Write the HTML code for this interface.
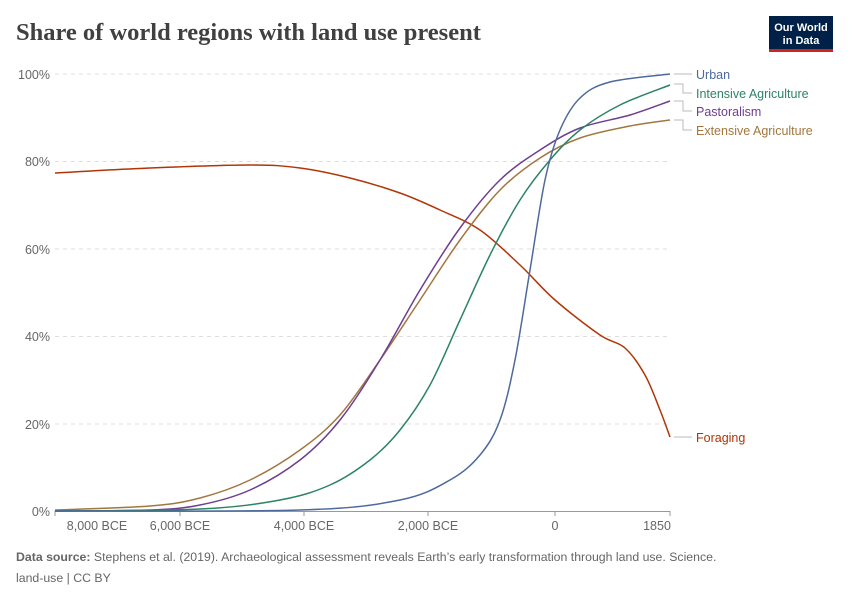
<!DOCTYPE html>
<html><head><meta charset="utf-8"><style>
body{margin:0;background:#fff;width:850px;height:600px;overflow:hidden;font-family:"Liberation Sans",sans-serif}
</style></head><body>
<svg id="s" width="850" height="600" xmlns="http://www.w3.org/2000/svg" font-family="Liberation Sans, sans-serif">
<text x="16" y="40" font-family="Liberation Serif, serif" font-size="24.5" font-weight="bold" fill="#404040">Share of world regions with land use present</text>
<rect x="769" y="16" width="64" height="36" fill="#002147"/>
<rect x="769" y="49" width="64" height="3" fill="#ce261e"/>
<text x="801" y="31" font-size="11" fill="#fff" text-anchor="middle" font-weight="bold">Our World</text>
<text x="801" y="44" font-size="11" fill="#fff" text-anchor="middle" font-weight="bold">in Data</text>
<g stroke="#ddd" stroke-dasharray="4,4" stroke-width="1">
<line x1="55" x2="670" y1="74" y2="74"/><line x1="55" x2="670" y1="161.5" y2="161.5"/><line x1="55" x2="670" y1="249" y2="249"/><line x1="55" x2="670" y1="336.5" y2="336.5"/><line x1="55" x2="670" y1="424" y2="424"/>
</g>
<line x1="55" x2="670" y1="511.5" y2="511.5" stroke="#999"/>
<g stroke="#999"><line x1="55" x2="55" y1="511" y2="516"/><line x1="180" x2="180" y1="511" y2="516"/><line x1="304" x2="304" y1="511" y2="516"/><line x1="428" x2="428" y1="511" y2="516"/><line x1="555" x2="555" y1="511" y2="516"/><line x1="670" x2="670" y1="511" y2="516"/></g>
<g font-size="12.5" fill="#666" text-anchor="end">
<text x="50" y="79">100%</text><text x="50" y="166">80%</text><text x="50" y="254">60%</text><text x="50" y="341">40%</text><text x="50" y="429">20%</text><text x="50" y="516">0%</text>
</g>
<g font-size="12.5" fill="#666" text-anchor="middle">
<text x="97" y="530">8,000 BCE</text><text x="180" y="530">6,000 BCE</text><text x="304" y="530">4,000 BCE</text><text x="428" y="530">2,000 BCE</text><text x="555" y="530">0</text><text x="657" y="530">1850</text>
</g>
<g fill="none" stroke-width="1.5" stroke-linejoin="round" id="ser">
<polyline stroke="#b13507" points="55,173 150,168 250,165 300,168 350,178 400,193 440,210 480,230 520,265 555,300 600,335 625,348 645,375 660,410 670,437"/>
<polyline stroke="#a2773f" points="55,510 150,506 200,498 250,480 300,450 340,415 380,360 420,300 460,240 500,190 540,158 580,138 630,126 670,120"/>
<polyline stroke="#6d3e91" points="55,511 150,510 200,505 250,490 300,460 340,420 380,360 420,290 460,228 500,180 540,150 580,128 630,115 670,101"/>
<polyline stroke="#2c8465" points="55,511 200,509 280,500 330,485 370,460 400,430 430,385 460,320 490,255 520,200 550,160 580,130 620,105 670,85"/>
<polyline stroke="#4c6a9c" points="55,511 300,510 400,500 450,480 480,455 500,420 515,360 530,270 545,180 560,130 580,98 610,82 670,74"/>
</g>
<g fill="none" stroke="#bbb">
<polyline points="674,74 692,74"/>
<polyline points="674,84 683,84 683,93 692,93"/>
<polyline points="674,101 683,101 683,111 692,111"/>
<polyline points="674,120 683,120 683,130 692,130"/>
<polyline points="674,437 692,437"/>
</g>
<g font-size="12.5">
<text x="696" y="79" fill="#4c6a9c">Urban</text>
<text x="696" y="98" fill="#2c8465">Intensive Agriculture</text>
<text x="696" y="116" fill="#6d3e91">Pastoralism</text>
<text x="696" y="135" fill="#a2773f">Extensive Agriculture</text>
<text x="696" y="442" fill="#b13507">Foraging</text>
</g>
<text x="16" y="561" font-size="12.3" fill="#666"><tspan font-weight="bold">Data source:</tspan> Stephens et al. (2019). Archaeological assessment reveals Earth’s early transformation through land use. Science.</text>
<text x="16" y="582" font-size="12.3" fill="#666">land-use | CC BY</text>
</svg>
<script>
document.querySelectorAll('#ser polyline').forEach(function(pl){
var p=pl.getAttribute('points').trim().split(/\s+/).map(function(s){return s.split(',').map(Number)});
var d='M'+p[0][0]+','+p[0][1];
for(var i=0;i<p.length-1;i++){
var p0=p[i-1]||p[i],p1=p[i],p2=p[i+1],p3=p[i+2]||p2;
var c1=[p1[0]+(p2[0]-p0[0])/6,p1[1]+(p2[1]-p0[1])/6];
var c2=[p2[0]-(p3[0]-p1[0])/6,p2[1]-(p3[1]-p1[1])/6];
d+=' C'+c1.join(',')+' '+c2.join(',')+' '+p2.join(',');}
var path=document.createElementNS('http://www.w3.org/2000/svg','path');
path.setAttribute('d',d);path.setAttribute('stroke',pl.getAttribute('stroke'));
pl.parentNode.replaceChild(path,pl);});
</script>
</body></html>
